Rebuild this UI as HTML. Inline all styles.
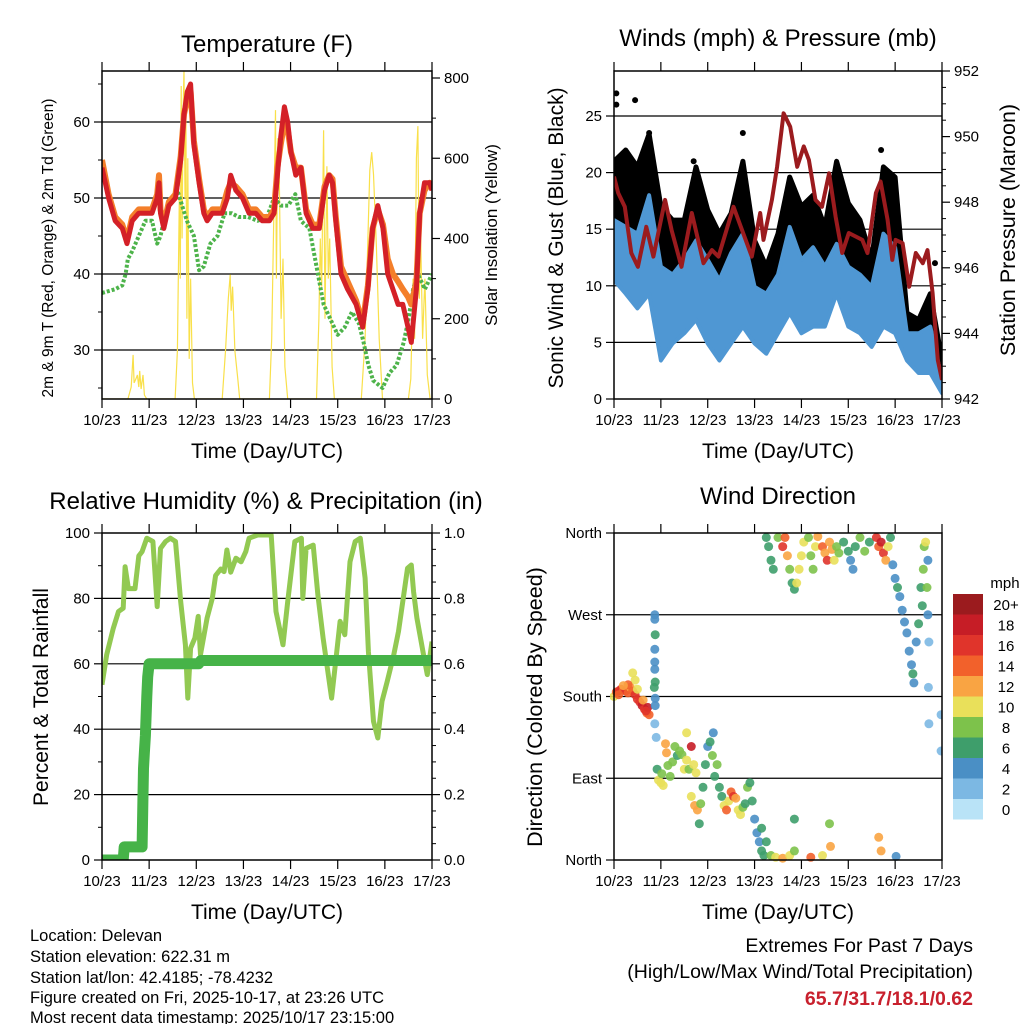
<!DOCTYPE html>
<html><head><meta charset="utf-8"><style>
html,body{margin:0;padding:0;background:#fff}
svg{display:block;font-family:"Liberation Sans",sans-serif}
</style></head><body>
<svg id="fig" width="1024" height="1024" viewBox="0 0 1024 1024" xmlns="http://www.w3.org/2000/svg">
<rect width="1024" height="1024" fill="#fff"/>
<g id="layer"></g>
<text x="267" y="52" font-size="24" text-anchor="middle">Temperature (F)</text>
<text x="778" y="46" font-size="24" text-anchor="middle">Winds (mph) &amp; Pressure (mb)</text>
<text x="266" y="509" font-size="24" text-anchor="middle">Relative Humidity (%) &amp; Precipitation (in)</text>
<text x="778" y="504" font-size="24" text-anchor="middle">Wind Direction</text>
<text x="267" y="458" font-size="21" text-anchor="middle">Time (Day/UTC)</text>
<text x="778" y="458" font-size="21" text-anchor="middle">Time (Day/UTC)</text>
<text x="267" y="919" font-size="21" text-anchor="middle">Time (Day/UTC)</text>
<text x="778" y="919" font-size="21" text-anchor="middle">Time (Day/UTC)</text>
<text transform="translate(53,248) rotate(-90)" font-size="15.5" text-anchor="middle">2m &amp; 9m T (Red, Orange) &amp; 2m Td (Green)</text>
<text transform="translate(497,235) rotate(-90)" font-size="17" text-anchor="middle">Solar Insolation (Yellow)</text>
<text transform="translate(563,238) rotate(-90)" font-size="21" text-anchor="middle">Sonic Wind &amp; Gust (Blue, Black)</text>
<text transform="translate(1015,230) rotate(-90)" font-size="21.5" text-anchor="middle">Station Pressure (Maroon)</text>
<text transform="translate(48,697) rotate(-90)" font-size="21" text-anchor="middle">Percent &amp; Total Rainfall</text>
<text transform="translate(542,707) rotate(-90)" font-size="21.5" text-anchor="middle">Direction (Colored By Speed)</text>
<g font-size="16.5">
<text x="30" y="941">Location: Delevan</text>
<text x="30" y="962">Station elevation: 622.31 m</text>
<text x="30" y="983">Station lat/lon: 42.4185; -78.4232</text>
<text x="30" y="1003">Figure created on Fri, 2025-10-17, at 23:26 UTC</text>
<text x="30" y="1023">Most recent data timestamp: 2025/10/17 23:15:00</text>
</g>
<g text-anchor="end">
<text x="973" y="952" font-size="19.5">Extremes For Past 7 Days</text>
<text x="973" y="978" font-size="19.5">(High/Low/Max Wind/Total Precipitation)</text>
<text x="973" y="1005" font-size="19.5" font-weight="bold" fill="#c8202d">65.7/31.7/18.1/0.62</text>
</g>
</svg>
<script>
const dayLabels=["10/23","11/23","12/23","13/23","14/23","15/23","16/23","17/23"];
const tempTimes=[0,.14,.28,.43,.53,.64,.78,.92,1.06,1.17,1.21,1.24,1.31,1.42,1.56,1.67,1.74,1.81,1.88,1.95,2.06,2.16,2.23,2.34,2.55,2.66,2.73,2.84,2.98,3.12,3.26,3.4,3.55,3.65,3.72,3.79,3.87,3.94,4.01,4.11,4.22,4.33,4.47,4.61,4.72,4.82,4.89,4.96,5.07,5.21,5.39,5.53,5.64,5.74,5.85,5.96,6.06,6.17,6.28,6.38,6.49,6.56,6.67,6.74,6.84,6.95,7.0];
const tempRed=[54,50,47,46,44,47,48,48,48,50,52,48,46,49,50,55,61,64,65,57,52,48,47,48,48,50,53,51,50,48,48,47,47,48,53,58,62,60,56,53,54,48,46,46,51,53,52,47,40,38,36,33,38,46,49,46,40,38,36,36,33,31,38,48,52,52,51];
const tempOrange=[55,50.5,47.5,46.5,44.5,47.5,48.5,48.5,48.5,50.5,53,48.5,46.5,49.5,50.5,55.5,61,63,64,57.5,52.5,48.5,47.5,48.5,48.5,51,52,51.5,50.5,48.5,48.5,47.5,47.5,48.5,54,57,60,59,56,54,54,48.5,46.5,46.5,51.5,53,52.5,47.5,41,39,36.5,33.5,38.5,46,48.5,46.5,42,40,39,38,37,36,39,48,51,52,51.5];
const dewTimes=[0,.28,.43,.5,.55,.64,.78,.92,1.06,1.17,1.24,1.35,1.5,1.6,1.7,1.8,1.95,2.06,2.16,2.3,2.45,2.6,2.75,2.9,3.1,3.3,3.5,3.65,3.8,3.95,4.1,4.22,4.4,4.55,4.7,4.85,5.0,5.15,5.3,5.45,5.55,5.65,5.75,5.85,5.95,6.1,6.25,6.4,6.5,6.6,6.7,6.85,7.0];
const dewValues=[37.5,38,38.5,40,42,43,45,47,47,44,45,48,50,51,49,47,45,40.5,41,44,45,48,48,47.5,47.5,47,47.5,50,49,49,50.5,47,46,41,36,34,32,33,35,33.5,31,28,26,25.5,25,27,28,31,34,38,40,38,40];
const solarTimes=[0,.55,.62,.66,.68,.72,.75,.78,.8,.83,.87,.9,.95,1.55,1.6,1.64,1.66,1.68,1.7,1.72,1.74,1.76,1.78,1.8,1.82,1.85,1.88,1.92,1.96,2.55,2.62,2.68,2.72,2.74,2.77,2.82,2.88,2.92,3.55,3.6,3.65,3.68,3.7,3.73,3.76,3.8,3.84,3.88,3.94,4.55,4.6,4.63,4.66,4.7,4.73,4.77,4.8,4.83,4.88,4.93,5.5,5.58,5.64,5.68,5.72,5.76,5.82,5.88,5.95,6.5,6.55,6.6,6.63,6.67,6.7,6.73,6.76,6.8,6.85,6.9,6.96];
const solarValues=[0,0,30,110,40,50,60,30,70,25,60,10,0,0,120,500,300,780,400,720,820,500,700,200,600,100,300,40,0,0,120,250,310,220,280,120,50,0,0,150,500,720,300,650,550,200,350,80,0,0,200,400,280,670,200,580,300,400,80,0,0,150,400,570,615,560,380,150,0,0,50,300,150,600,680,250,400,150,300,60,0];
const windTimes=[0,.25,.5,.75,1,1.25,1.5,1.75,2,2.25,2.5,2.75,3,3.25,3.5,3.75,4,4.25,4.5,4.75,5,5.25,5.5,5.75,6,6.25,6.5,6.75,7];
const windLow=[10.5,9.3,8,9.3,3.4,4.9,5.8,7,4.9,3.4,4.9,6.4,4.9,4,5.8,7.6,5.8,6.4,6.4,9.3,6.4,5.8,4.6,6.4,5.8,3.4,2.3,2.3,.5];
const windHigh=[15.8,15.2,14.6,18,11.7,11,12.3,14,12.3,10.5,12.9,14.6,9.9,9.3,11,15.2,12.3,13.4,11.7,13.7,11.7,11,9.9,14.6,13.4,5.8,5.8,6.4,1.7];
const gustHigh=[21,22,20.5,23.4,17,15.8,15.8,20.5,16.7,14.6,16.4,21,14,11.7,14.6,19.6,17,18,15.2,21,17.3,15.8,12.3,20.5,19.6,7.6,7,9.3,3.4];
const gustOutlierTimes=[.05,.05,.45,.75,1.7,2.75,3.8,5.7,6.85];
const gustOutlierValues=[27,26,26.4,23.5,21,23.5,18,22,12];
const presTimes=[0,.09,.23,.37,.51,.69,.84,1.09,1.23,1.44,1.66,1.91,2.09,2.23,2.55,2.94,3.12,3.19,3.37,3.48,3.62,3.76,3.91,4.05,4.16,4.3,4.44,4.59,4.73,4.87,5.01,5.3,5.41,5.59,5.69,5.84,5.94,6.01,6.16,6.3,6.44,6.59,6.69,6.8,6.91,7.0];
const presValues=[948.78,948.28,947.86,946.45,946.03,947.25,946.34,948.07,947.15,946.03,947.67,946.14,946.54,946.34,947.86,946.34,947.67,946.85,948.07,949.08,950.71,950.3,949.08,949.7,949.29,948.07,947.86,948.88,947.56,946.45,947.06,946.85,946.45,948.28,948.63,947.46,946.24,946.85,946.75,945.42,946.45,946.14,946.54,945.23,943.19,942.58];
const rhTimes=[0,.1,.24,.35,.45,.49,.56,.7,.78,.85,.95,1.08,1.17,1.24,1.35,1.45,1.56,1.67,1.77,1.82,1.88,1.97,2.04,2.09,2.23,2.34,2.41,2.52,2.59,2.65,2.73,2.84,2.95,3.05,3.12,3.3,3.59,3.69,3.84,3.94,4.09,4.23,4.26,4.33,4.48,4.58,4.69,4.87,4.98,5.05,5.15,5.26,5.37,5.48,5.58,5.65,5.76,5.85,5.94,6.05,6.19,6.29,6.4,6.48,6.56,6.61,6.68,6.82,6.9,7.0];
const rhValues=[53.6,62.8,70.9,76,77,89.7,83,83,93,94.3,98.4,97.4,77.5,95.3,97.4,98.4,97.4,79,65.8,49.5,64.8,67.9,74.5,62.8,74,80,87,89,88.2,94.8,88,92.3,91.2,94.3,98.4,99.4,99.4,76,65.8,79,97.4,98.4,80,95.3,96.3,81,67.9,49.5,63.8,73,68.9,91.2,97.4,98.4,86.2,63.8,42.4,37.3,48.5,54.6,62.8,69.9,81,89.2,90.2,82,74,62.8,56.7,66.8];
const precipTimes=[0,.45,.47,.85,.87,.88,.9,.92,.95,.97,1.0,2.05,2.1,7.0];
const precipValues=[0,0,.04,.04,.2,.28,.33,.38,.5,.56,.6,.6,.61,.61];
const dirTimes=[0,.05,.1,.15,.2,.25,.3,.35,.4,.45,.5,.55,.6,.65,.7,.75,.62,.5,.45,.4,.3,.2,.1,.72,.68,
.87,.87,.88,.87,.87,.87,.86,.88,.88,.87,.9,.88,
.92,.95,1.0,1.05,1.02,1.1,1.12,1.15,1.2,1.25,1.3,1.35,1.4,1.45,1.5,1.55,1.6,1.65,1.55,1.7,1.75,1.65,1.72,1.78,1.82,1.85,1.9,1.95,2.0,2.05,2.1,2.15,2.12,2.2,2.25,2.3,2.35,2.4,2.45,2.5,2.55,2.6,2.65,2.7,2.75,2.8,2.85,2.9,2.95,3.0,3.05,3.1,3.15,3.2,3.15,3.25,3.35,3.45,3.6,3.75,3.85,3.85,4.2,4.45,4.6,4.62,5.65,5.7,6.02,
3.25,3.3,3.35,3.4,3.5,3.6,3.65,3.7,3.75,3.8,3.85,3.9,3.95,4.0,4.05,4.15,4.2,4.25,4.3,4.35,4.45,4.5,4.55,4.6,4.65,4.7,4.75,4.8,4.9,5.0,5.05,5.1,5.15,5.25,5.35,5.45,5.6,5.65,5.7,5.75,5.8,5.85,5.9,5.95,6.0,6.05,6.1,6.15,6.2,6.25,6.3,6.35,6.4,6.38,6.45,6.5,6.55,6.6,6.62,6.58,6.7,6.7,6.72,6.71,6.72,6.65,6.68,6.98,6.98];
const dirValues=[180,185,186,188,187,186,184,190,186,182,177,174,170,166,162,160,176,188,198,206,193,192,182,168,164,
270,265,248,232,218,210,190,178,170,150,135,196,
100,88,85,82,95,128,118,104,92,108,125,115,120,116,100,110,100,125,140,105,96,70,60,55,40,62,80,105,125,130,115,92,140,105,80,70,60,55,65,75,70,68,55,50,58,62,80,85,65,45,30,20,10,5,35,20,5,3,2,5,10,45,3,5,40,15,25,10,4,
355,345,330,320,355,345,355,335,320,305,298,305,320,335,350,355,335,320,345,356,345,338,330,350,342,330,345,338,350,340,330,320,345,355,340,350,355,345,350,338,330,345,355,325,310,300,290,275,262,250,230,215,195,205,240,260,300,320,345,280,330,270,240,190,150,350,300,160,120];
const dirSpeeds=[10,14,16,15,14,16,14,12,13,15,16,15,17,16,14,13,12,10,9,10,13,12,14,18,15,
3,4,6,4,4,4,6,4,3,2,2,5,
6,9,10,9,8,12,11,8,8,7,8,6,7,8,9,10,8,17,10,10,9,10,12,11,5,7,6,5,4,6,7,5,3,7,6,6,10,13,10,14,16,12,10,9,8,6,7,6,6,4,4,3,5,6,6,5,8,10,12,10,8,6,14,10,7,11,12,11,4,
6,6,6,6,8,16,14,12,8,6,5,10,10,9,10,8,7,7,9,12,13,12,15,12,11,10,8,8,6,6,4,4,6,7,8,6,16,14,17,15,12,10,5,4,4,5,4,4,3,4,4,3,4,6,4,6,6,8,8,6,3,4,2,2,2,9,8,2,2];
const speedColors=["#b9e3f7","#7cb8e3","#4a8fc5","#3e9e6b","#7dc24b","#e9e05a","#f9a443","#f2612b","#e0342b","#c61d26","#9b1b1e"];
const speedLabels=["0","2","4","6","8","10","12","14","16","18","20+"];

const NS="http://www.w3.org/2000/svg";
const layer=document.getElementById('layer');
function mk(tag,attrs,parent){const e=document.createElementNS(NS,tag);for(const k in attrs)e.setAttribute(k,attrs[k]);(parent||layer).appendChild(e);return e;}
function lin(d0,d1,r0,r1){return v=>r0+(v-d0)*(r1-r0)/(d1-d0);}
function pts(ts,vs,xs,ys){return ts.map((t,i)=>xs(t).toFixed(1)+','+ys(vs[i]).toFixed(1)).join(' ');}

function axes(name,x0,x1,y0,y1,yL,left,right){
  const g=mk('g',{});
  
  
  const xs=lin(0,7,x0,x1);
  left.grid.forEach(v=>{const y=yL(v);mk('line',{x1:x0,x2:x1,y1:y,y2:y,stroke:'#000','stroke-width':1.2},g);});
  for(let d=0;d<=7;d++){const x=xs(d);
    mk('line',{x1:x,x2:x,y1:y0,y2:y0-9,stroke:'#000','stroke-width':1.2},g);
    mk('line',{x1:x,x2:x,y1:y1,y2:y1+9,stroke:'#000','stroke-width':1.2},g);
    const t=mk('text',{x:x,y:y1+26,'font-size':15,'text-anchor':'middle'},g);t.textContent=dayLabels[d];
    
    
  }
  left.minor.forEach(v=>{const y=yL(v);mk('line',{x1:x0,x2:x0-4,y1:y,y2:y,stroke:'#000','stroke-width':1},g);});
  left.major.forEach((v,i)=>{const y=yL(v);mk('line',{x1:x0,x2:x0-8,y1:y,y2:y,stroke:'#000','stroke-width':1.2},g);
    const t=mk('text',{x:x0-12,y:y+5,'font-size':15,'text-anchor':'end'},g);t.textContent=left.labels[i];
    
    });
  if(right){right.minor.forEach(v=>{const y=right.s(v);mk('line',{x1:x1,x2:x1+4,y1:y,y2:y,stroke:'#000','stroke-width':1},g);});
    right.major.forEach((v,i)=>{const y=right.s(v);mk('line',{x1:x1,x2:x1+8,y1:y,y2:y,stroke:'#000','stroke-width':1.2},g);
      const t=mk('text',{x:x1+12,y:y+5,'font-size':15},g);t.textContent=right.labels[i];
      
      });}
  return g;
}
function box(name,x0,x1,y0,y1){const r=mk('rect',{x:x0,y:y0,width:x1-x0,height:y1-y0,fill:'none',stroke:'#000','stroke-width':1.5});
  
  }
function clip(id,x0,x1,y0,y1){const c=mk('clipPath',{id:id});mk('rect',{x:x0,y:y0,width:x1-x0,height:y1-y0},c);}

// Panel 1: temperature
{const x0=102,x1=432,y0=71,y1=399;const xs=lin(0,7,x0,x1);const yT=lin(30,60,350,122);const yS=lin(0,800,399,78);
 clip('c1',x0,x1,y0,y1);
 axes('temperature',x0,x1,y0,y1,yT,{grid:[30,40,50,60],major:[30,40,50,60],labels:['30','40','50','60'],minor:[25,35,45,55,65]},
   {s:yS,major:[0,200,400,600,800],labels:['0','200','400','600','800'],minor:[100,300,500,700]});
 const g=mk('g',{'clip-path':'url(#c1)'});
 let e=mk('polyline',{points:pts(solarTimes,solarValues,xs,yS),fill:'none',stroke:'#f9e04a','stroke-width':1.2},g);
 
 
 e=mk('polyline',{points:pts(dewTimes,dewValues,xs,yT),fill:'none',stroke:'#4db34a','stroke-width':4,'stroke-dasharray':'3 2','stroke-linejoin':'round'},g);
 
 
 e=mk('polyline',{points:pts(tempTimes,tempOrange,xs,yT),fill:'none',stroke:'#f47f2a','stroke-width':6,'stroke-linejoin':'round'},g);
 
 
 e=mk('polyline',{points:pts(tempTimes,tempRed,xs,yT),fill:'none',stroke:'#d42027','stroke-width':5,'stroke-linejoin':'round'},g);
 
 
 box('temperature',x0,x1,y0,y1);}

// Panel 2: winds & pressure
{const x0=614,x1=942,y0=71,y1=399;const xs=lin(0,7,x0,x1);const yW=lin(0,25,399,116);const yP=lin(942,952,399,71);
 clip('c2',x0,x1,y0,y1);
 axes('winds',x0,x1,y0,y1,yW,{grid:[5,10,15,20,25],major:[0,5,10,15,20,25],labels:['0','5','10','15','20','25'],minor:[]},
   {s:yP,major:[942,944,946,948,950,952],labels:['942','944','946','948','950','952'],minor:[942.5,943,943.5,944.5,945,945.5,946.5,947,947.5,948.5,949,949.5,950.5,951,951.5]});
 const g=mk('g',{'clip-path':'url(#c2)'});
 const top=windTimes.map((t,i)=>xs(t).toFixed(1)+','+yW(gustHigh[i]).toFixed(1));
 const mid=windTimes.map((t,i)=>xs(t).toFixed(1)+','+yW(windHigh[i]).toFixed(1)).reverse();
 let e=mk('polygon',{points:top.concat(mid).join(' '),fill:'#000',stroke:'#000','stroke-width':5,'stroke-linejoin':'round'},g);
 
 
 const hi=windTimes.map((t,i)=>xs(t).toFixed(1)+','+yW(windHigh[i]).toFixed(1));
 const lo=windTimes.map((t,i)=>xs(t).toFixed(1)+','+yW(windLow[i]).toFixed(1)).reverse();
 e=mk('polygon',{points:hi.concat(lo).join(' '),fill:'#4f97d3',stroke:'#4f97d3','stroke-width':4,'stroke-linejoin':'round'},g);
 
 
 gustOutlierTimes.forEach((t,i)=>{const c=mk('circle',{cx:xs(t),cy:yW(gustOutlierValues[i]),r:3,fill:'#000'},g);
   
   });
 e=mk('polyline',{points:pts(presTimes,presValues,xs,yP),fill:'none',stroke:'#9b1b1e','stroke-width':4,'stroke-linejoin':'round'},g);
 
 
 box('winds',x0,x1,y0,y1);}

// Panel 3: humidity & precip
{const x0=102,x1=432,y0=533,y1=860;const xs=lin(0,7,x0,x1);const yR=lin(0,100,860,533);const yP=lin(0,1,860,533);
 clip('c3',x0,x1,y0,y1);
 axes('humidity',x0,x1,y0,y1,yR,{grid:[20,40,60,80],major:[0,20,40,60,80,100],labels:['0','20','40','60','80','100'],minor:[10,30,50,70,90]},
   {s:yP,major:[0,.2,.4,.6,.8,1],labels:['0.0','0.2','0.4','0.6','0.8','1.0'],minor:[.05,.1,.15,.25,.3,.35,.45,.5,.55,.65,.7,.75,.85,.9,.95]});
 const g=mk('g',{'clip-path':'url(#c3)'});
 let e=mk('polyline',{points:pts(rhTimes,rhValues,xs,yR),fill:'none',stroke:'#92c952','stroke-width':5,'stroke-linejoin':'round'},g);
 
 
 e=mk('polyline',{points:pts(precipTimes,precipValues,xs,yP),fill:'none',stroke:'#46b348','stroke-width':11,'stroke-linejoin':'round','stroke-linecap':'round'},g);
 
 
 box('humidity',x0,x1,y0,y1);}

// Panel 4: wind direction
{const x0=614,x1=942,y0=533,y1=860;const xs=lin(0,7,x0,x1);const yD=lin(0,360,860,533);
 clip('c4',x0-4,x1,y0-4,y1+4);
 axes('wind-direction',x0,x1,y0,y1,yD,{grid:[90,180,270],major:[0,90,180,270,360],labels:['North','East','South','West','North'],minor:[]},null);
 const g=mk('g',{'clip-path':'url(#c4)'});
 dirTimes.forEach((t,i)=>{const k=Math.min(10,Math.round(dirSpeeds[i]/2));
   const c=mk('circle',{cx:xs(t).toFixed(1),cy:yD(dirValues[i]).toFixed(1),r:4.5,fill:speedColors[k],'fill-opacity':0.9},g);
   
   });
 box('wind-direction',x0,x1,y0,y1);
 const lg=mk('g',{});
 
 
 const t0=mk('text',{x:1005,y:588,'font-size':15,'text-anchor':'middle'},lg);t0.textContent='mph';
 for(let i=0;i<11;i++){const y=594+(10-i)*20.5;
   const r=mk('rect',{x:953,y:y,width:30,height:20.5,fill:speedColors[i]},lg);
   
   
   const t=mk('text',{x:1006,y:y+16,'font-size':15,'text-anchor':'middle'},lg);t.textContent=speedLabels[i];
   
   }
}
</script>
</body></html>
